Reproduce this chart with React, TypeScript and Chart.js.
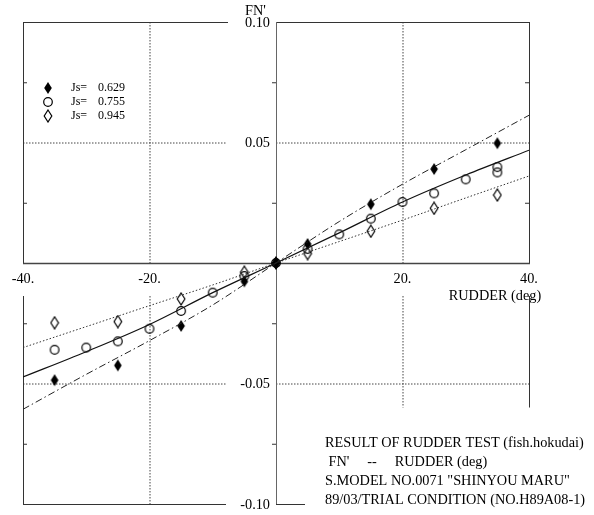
import React, { useEffect, useRef } from "react";
import { Chart, registerables } from "chart.js";
Chart.register(...registerables);

// ---- data ----
const seriesLabels = ["0.629", "0.755", "0.945"];

const rudder0629 = [-35, -25, -15, -5, 0, 5, 15, 25, 35];
const fn0629 = [-0.0486, -0.0425, -0.0261, -0.0076, 0, 0.0079, 0.0244, 0.039, 0.0497];

const rudder0755 = [-35, -30, -25, -20, -15, -10, -5, 0, 5, 10, 15, 20, 25, 30, 35, 35];
const fn0755 = [-0.036, -0.0351, -0.0325, -0.0273, -0.0199, -0.0123, -0.0054, 0, 0.0058, 0.0119, 0.0184, 0.0253, 0.0289, 0.0347, 0.0398, 0.0376];

const rudder0945 = [-35, -25, -15, -5, 0, 5, 15, 25, 35];
const fn0945 = [-0.0248, -0.0243, -0.0149, -0.0038, 0, 0.0039, 0.0132, 0.0227, 0.0282];

const curveRudder = [-40, -30, -20, -10, 0, 10, 20, 30, 40];
const curve0629 = [-0.0607, -0.0462, -0.0322, -0.0174, 0, 0.0172, 0.0327, 0.047, 0.0613];
const curve0755 = [-0.0473, -0.0368, -0.0255, -0.0123, 0, 0.0125, 0.0253, 0.0365, 0.0468];
const curve0945 = [-0.0351, -0.0264, -0.0177, -0.0091, 0, 0.0089, 0.0178, 0.027, 0.0361];

const xTicks = [-40, -20, 20, 40];
const xTickLabels = ["-40.", "-20.", "20.", "40."];
const yTicks = [0.1, 0.05, -0.05, -0.1];
const yTickLabels = ["0.10", "0.05", "-0.05", "-0.10"];
const minorY = [0.075, 0.025, -0.025, -0.075];

const noteLines = [
  "RESULT OF RUDDER TEST (fish.hokudai)",
  " FN'     --     RUDDER (deg)",
  'S.MODEL NO.0071 "SHINYOU MARU"',
  "89/03/TRIAL CONDITION (NO.H89A08-1)",
];

const SERIF = '"Liberation Serif", "DejaVu Serif", serif';

function makeDiamond(filled: boolean): HTMLCanvasElement {
  const c = document.createElement("canvas");
  c.width = 10;
  c.height = 14;
  const g = c.getContext("2d")!;
  g.beginPath();
  g.moveTo(5, 1);
  g.lineTo(8.8, 7);
  g.lineTo(5, 13);
  g.lineTo(1.2, 7);
  g.closePath();
  if (filled) {
    g.fillStyle = "#000";
    g.fill();
  } else {
    g.strokeStyle = "#000";
    g.lineWidth = 1.2;
    g.stroke();
  }
  return c;
}

function makeCircle(): HTMLCanvasElement {
  const c = document.createElement("canvas");
  c.width = 12;
  c.height = 12;
  const g = c.getContext("2d")!;
  g.beginPath();
  g.arc(6, 6, 4.3, 0, Math.PI * 2);
  g.strokeStyle = "#000";
  g.lineWidth = 1.2;
  g.stroke();
  return c;
}

const toXY = (xs: number[], ys: number[]) => xs.map((x, i) => ({ x, y: ys[i] }));

export default function App() {
  const ref = useRef<HTMLCanvasElement | null>(null);

  useEffect(() => {
    const canvas = ref.current!;
    const filledD = makeDiamond(true);
    const openD = makeDiamond(false);
    const circ = makeCircle();
    const markers = [filledD, circ, openD];

    const decor = {
      id: "decor",
      beforeDatasetsDraw(chart: any) {
        const ctx = chart.ctx;
        const xs = chart.scales.x;
        const ys = chart.scales.y;
        const X = (v: number) => xs.getPixelForValue(v);
        const Y = (v: number) => ys.getPixelForValue(v);
        const seg = (x1: number, y1: number, x2: number, y2: number, dash: number[], color: string, w = 1) => {
          ctx.save();
          ctx.beginPath();
          ctx.setLineDash(dash);
          ctx.strokeStyle = color;
          ctx.lineWidth = w;
          ctx.moveTo(x1, y1);
          ctx.lineTo(x2, y2);
          ctx.stroke();
          ctx.restore();
        };
        const L = X(-40), R = X(40), C = X(0);
        const T = Y(0.1), B = Y(-0.1), M = Y(0);
        const gapBelow = M + 33;
        const cutRight = Y(-0.05) + 24;
        const frame = "#333";
        const dot = [1.5, 1.5];
        for (const v of [-20, 20]) {
          seg(X(v) + 0.5, T, X(v) + 0.5, M, dot, "#444");
          seg(X(v) + 0.5, gapBelow, X(v) + 0.5, v > 0 ? cutRight : B, dot, "#444");
        }
        for (const v of [0.05, -0.05]) {
          seg(L, Y(v) + 0.5, C - 50, Y(v) + 0.5, dot, "#444");
          seg(C, Y(v) + 0.5, R, Y(v) + 0.5, dot, "#444");
        }
        seg(L + 0.5, T, L + 0.5, M, [], frame);
        seg(L + 0.5, gapBelow, L + 0.5, B, [], frame);
        seg(R + 0.5, T, R + 0.5, M, [], frame);
        seg(R + 0.5, gapBelow, R + 0.5, cutRight, [], frame);
        seg(L, T + 0.5, C - 48, T + 0.5, [], frame);
        seg(C, T + 0.5, R + 1, T + 0.5, [], frame);
        seg(L, B + 0.5, C - 50, B + 0.5, [], frame);
        seg(C, B + 0.5, C + 29, B + 0.5, [], frame);
        seg(L, M + 0.5, R + 1, M + 0.5, [], "#444", 1.5);
        seg(C + 0.5, T, C + 0.5, B, [], "#666", 1);
        for (const v of minorY) {
          seg(L, Y(v) + 0.5, L + 4, Y(v) + 0.5, [], frame);
          seg(C - 4, Y(v) + 0.5, C, Y(v) + 0.5, [], frame);
          if (v > 0) seg(R - 4, Y(v) + 0.5, R, Y(v) + 0.5, [], frame);
        }
      },
      afterDraw(chart: any) {
        const ctx = chart.ctx;
        const xs = chart.scales.x;
        const ys = chart.scales.y;
        const X = (v: number) => xs.getPixelForValue(v);
        const Y = (v: number) => ys.getPixelForValue(v);
        ctx.save();
        ctx.fillStyle = "#000";
        ctx.font = `14.3px ${SERIF}`;
        ctx.textBaseline = "middle";
        ctx.textAlign = "center";
        xTicks.forEach((v, i) => ctx.fillText(xTickLabels[i], X(v), Y(0) + 16));
        ctx.fillText("RUDDER (deg)", X(40) - 34, Y(0) + 33);
        ctx.textAlign = "right";
        yTicks.forEach((v, i) => ctx.fillText(yTickLabels[i], X(0) - 6, Y(v) + 1));
        ctx.textAlign = "left";
        ctx.fillText("FN'", X(0) - 31, Y(0.1) - 11);
        const nx = X(0) + 49;
        const ny = [443, 462, 481, 500];
        noteLines.forEach((t, i) => ctx.fillText(t, nx, ny[i]));
        ctx.font = `12px ${SERIF}`;
        const ly = [88, 102, 116];
        seriesLabels.forEach((lab, i) => {
          const m = markers[i];
          ctx.drawImage(m, 48 - m.width / 2, ly[i] - m.height / 2);
          ctx.fillText("Js=", 71, ly[i]);
          ctx.fillText(lab, 98, ly[i]);
        });
        ctx.restore();
      },
    };

    const chart = new Chart(canvas, {
      type: "scatter",
      data: {
        datasets: [
          {
            label: "fit 0.629",
            data: toXY(curveRudder, curve0629),
            showLine: true,
            borderColor: "#222",
            borderWidth: 1,
            borderDash: [7, 3, 1.5, 3],
            pointRadius: 0,
            cubicInterpolationMode: "monotone",
          },
          {
            label: "fit 0.755",
            data: toXY(curveRudder, curve0755),
            showLine: true,
            borderColor: "#111",
            borderWidth: 1.2,
            pointRadius: 0,
            cubicInterpolationMode: "monotone",
          },
          {
            label: "fit 0.945",
            data: toXY(curveRudder, curve0945),
            showLine: true,
            borderColor: "#333",
            borderWidth: 1,
            borderDash: [1.5, 2],
            pointRadius: 0,
            cubicInterpolationMode: "monotone",
          },
          {
            label: "Js= 0.629",
            data: toXY(rudder0629, fn0629),
            pointStyle: filledD,
            pointRadius: 5,
          },
          {
            label: "Js= 0.755",
            data: toXY(rudder0755, fn0755),
            pointStyle: circ,
            pointRadius: 5,
          },
          {
            label: "Js= 0.945",
            data: toXY(rudder0945, fn0945),
            pointStyle: openD,
            pointRadius: 5,
          },
        ] as any,
      },
      options: {
        animation: false,
        responsive: false,
        maintainAspectRatio: false,
        layout: { padding: { left: 23, right: 65, top: 22, bottom: 11 } },
        scales: {
          x: { type: "linear", min: -40, max: 40, display: false },
          y: { type: "linear", min: -0.1, max: 0.1, display: false },
        },
        plugins: {
          legend: { display: false },
          tooltip: { enabled: false },
        },
      } as any,
      plugins: [decor],
    });
    return () => chart.destroy();
  }, []);

  return (
    <canvas
      ref={ref}
      width={594}
      height={515}
      style={{ position: "fixed", left: 0, top: 0, width: 594, height: 515, background: "#fff" }}
    />
  );
}
